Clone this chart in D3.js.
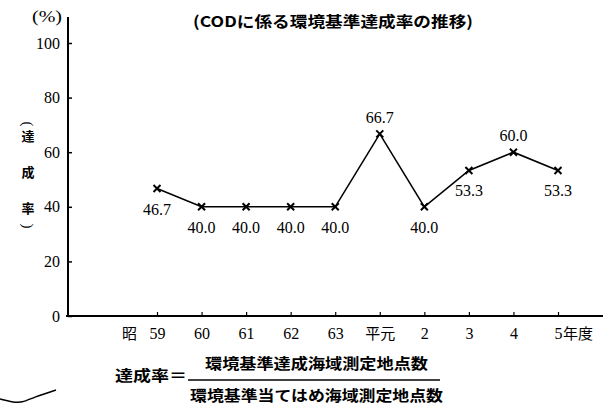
<!DOCTYPE html>
<html>
<head>
<meta charset="utf-8">
<script src="https://cdn.jsdelivr.net/npm/d3@7"></script>
<style>
  html, body { margin: 0; padding: 0; background: #fff; }
  svg { display: block; }
  .serif { font-family: "Liberation Serif", "Times New Roman", "DejaVu Serif", serif; }
  .cjk { font-family: "Noto Sans CJK JP", "Noto Sans", sans-serif; }
</style>
</head>
<body>
<svg id="chart" width="613" height="406"></svg>
<script>
// ---- data ----
const tickLabels = ["59", "60", "61", "62", "63", "平元", "2", "3", "4", "5"];
const values = [46.7, 40.0, 40.0, 40.0, 40.0, 66.7, 40.0, 53.3, 60.0, 53.3];
const yTicks = [0, 20, 40, 60, 80, 100];
const eraPrefix = "昭";
const lastSuffix = "年度";
const titleText = "(CODに係る環境基準達成率の推移)";
const unitText = "(%)";
const yTitleChars = ["達", "成", "率"];
const formulaLeft = "達成率＝";
const formulaNum = "環境基準達成海域測定地点数";
const formulaDen = "環境基準当てはめ海域測定地点数";

// ---- layout ----
const svg = d3.select("#chart");

const x = d3.scalePoint().domain(d3.range(tickLabels.length)).range([157, 558]);
const y = d3.scaleLinear().domain([0, 100]).range([316, 43]);

// y axis
const yAxis = d3.axisLeft(y).tickValues(yTicks).tickSizeInner(-4).tickSizeOuter(0).tickPadding(8);
const gy = svg.append("g").attr("transform", "translate(68,0)").call(yAxis)
  .attr("font-family", null);
gy.select(".domain").remove();
gy.selectAll(".tick line").attr("stroke", "#000").attr("stroke-width", 1.5);
gy.selectAll(".tick text").attr("class", "serif").attr("font-size", 16).attr("fill", "#000");
svg.append("line").attr("x1", 68).attr("x2", 68).attr("y1", 17).attr("y2", y(0) + 1)
  .attr("stroke", "#000").attr("stroke-width", 2);

// x axis
const xAxis = d3.axisBottom(x).tickSizeInner(-4).tickSizeOuter(0).tickPadding(12)
  .tickFormat(i => tickLabels[i]);
const gx = svg.append("g").attr("transform", `translate(0,${y(0)})`).call(xAxis)
  .attr("font-family", null);
gx.select(".domain").remove();
gx.selectAll(".tick line").attr("stroke", "#000").attr("stroke-width", 1.2);
gx.selectAll(".tick text")
  .attr("class", d => /\d/.test(tickLabels[d]) ? "serif" : "cjk")
  .attr("font-size", d => /\d/.test(tickLabels[d]) ? 16 : 15)
  .attr("fill", "#000");
svg.append("line").attr("x1", 66).attr("x2", 603).attr("y1", y(0)).attr("y2", y(0))
  .attr("stroke", "#000").attr("stroke-width", 2);

// era prefix & suffix on x labels
const lastIdx = tickLabels.length - 1;
svg.append("text").attr("class", "cjk").attr("x", x(0) - 20).attr("y", y(0) + 23.4)
  .attr("text-anchor", "end").attr("font-size", 15)
  .attr("fill", "#000").text(eraPrefix);
svg.append("text").attr("class", "cjk").attr("x", x(lastIdx) + 5).attr("y", y(0) + 23.4)
  .attr("text-anchor", "start").attr("font-size", 15)
  .attr("fill", "#000").text(lastSuffix);

// line
const line = d3.line().x((d, i) => x(i)).y(d => y(d));
svg.append("path").datum(values).attr("d", line)
  .attr("fill", "none").attr("stroke", "#000").attr("stroke-width", 1.6);

// x markers
const m = 3.5;
const markers = svg.append("g").selectAll("g").data(values).join("g")
  .attr("transform", (d, i) => `translate(${x(i)},${y(d)})`);
markers.append("path").attr("d", `M${-m},${-m}L${m},${m}M${-m},${m}L${m},${-m}`)
  .attr("stroke", "#000").attr("stroke-width", 2);

// value labels: above for interior local maxima, otherwise below
const fmt = d3.format(".1f");
svg.append("g").selectAll("text").data(values).join("text")
  .attr("class", "serif")
  .attr("x", (d, i) => x(i))
  .attr("y", (d, i) => {
    const above = i > 0 && i < values.length - 1 && d > values[i - 1] && d > values[i + 1];
    return above ? y(d) - 11 : y(d) + 26;
  })
  .attr("text-anchor", "middle").attr("font-size", 16)
  .attr("fill", "#000").text(d => fmt(d));

// unit
svg.append("text").attr("class", "serif").attr("x", 47).attr("y", 22).attr("text-anchor", "middle")
  .attr("font-size", 16).attr("textLength", 30)
  .attr("lengthAdjust", "spacingAndGlyphs").attr("fill", "#000").text(unitText);

// title
svg.append("text").attr("class", "cjk").attr("x", 193).attr("y", 27)
  .attr("font-weight", 700).attr("font-size", 15).attr("textLength", 280)
  .attr("lengthAdjust", "spacingAndGlyphs").attr("fill", "#000").text(titleText);

// y title (vertical), parentheses rotated
const yTitleY = [136, 172, 208];
svg.append("g").selectAll("text").data(yTitleChars).join("text")
  .attr("class", "cjk")
  .attr("x", 28).attr("y", (d, i) => yTitleY[i])
  .attr("dy", "0.35em").attr("text-anchor", "middle")
  .attr("font-weight", 700).attr("font-size", 13)
  .attr("fill", "#000").text(d => d);
[["(", 124], [")", 226]].forEach(([ch, cy]) => {
  svg.append("text").attr("class", "serif")
    .attr("transform", `translate(28,${cy}) rotate(90)`)
    .attr("dy", "0.33em").attr("text-anchor", "middle")
    .attr("font-size", 15).attr("fill", "#000").text(ch);
});

// formula
svg.append("text").attr("class", "cjk").attr("x", 115).attr("y", 381)
  .attr("font-weight", 700).attr("font-size", 15).attr("textLength", 72)
  .attr("lengthAdjust", "spacingAndGlyphs").attr("fill", "#000").text(formulaLeft);
svg.append("text").attr("class", "cjk").attr("x", 205).attr("y", 369)
  .attr("font-weight", 700).attr("font-size", 15).attr("textLength", 223)
  .attr("lengthAdjust", "spacingAndGlyphs").attr("fill", "#000").text(formulaNum);
svg.append("line").attr("x1", 188).attr("x2", 440).attr("y1", 380).attr("y2", 380)
  .attr("stroke", "#000").attr("stroke-width", 1.5);
svg.append("text").attr("class", "cjk").attr("x", 190).attr("y", 401)
  .attr("font-weight", 700).attr("font-size", 15).attr("textLength", 253)
  .attr("lengthAdjust", "spacingAndGlyphs").attr("fill", "#000").text(formulaDen);

// decorative brace stroke at bottom-left (scan artifact)
svg.append("path")
  .attr("d", d3.line().curve(d3.curveBasis)([[0, 399], [12, 402], [22, 403], [34, 397], [56, 390]]))
  .attr("fill", "none").attr("stroke", "#000").attr("stroke-width", 1.5);
</script>
</body>
</html>
